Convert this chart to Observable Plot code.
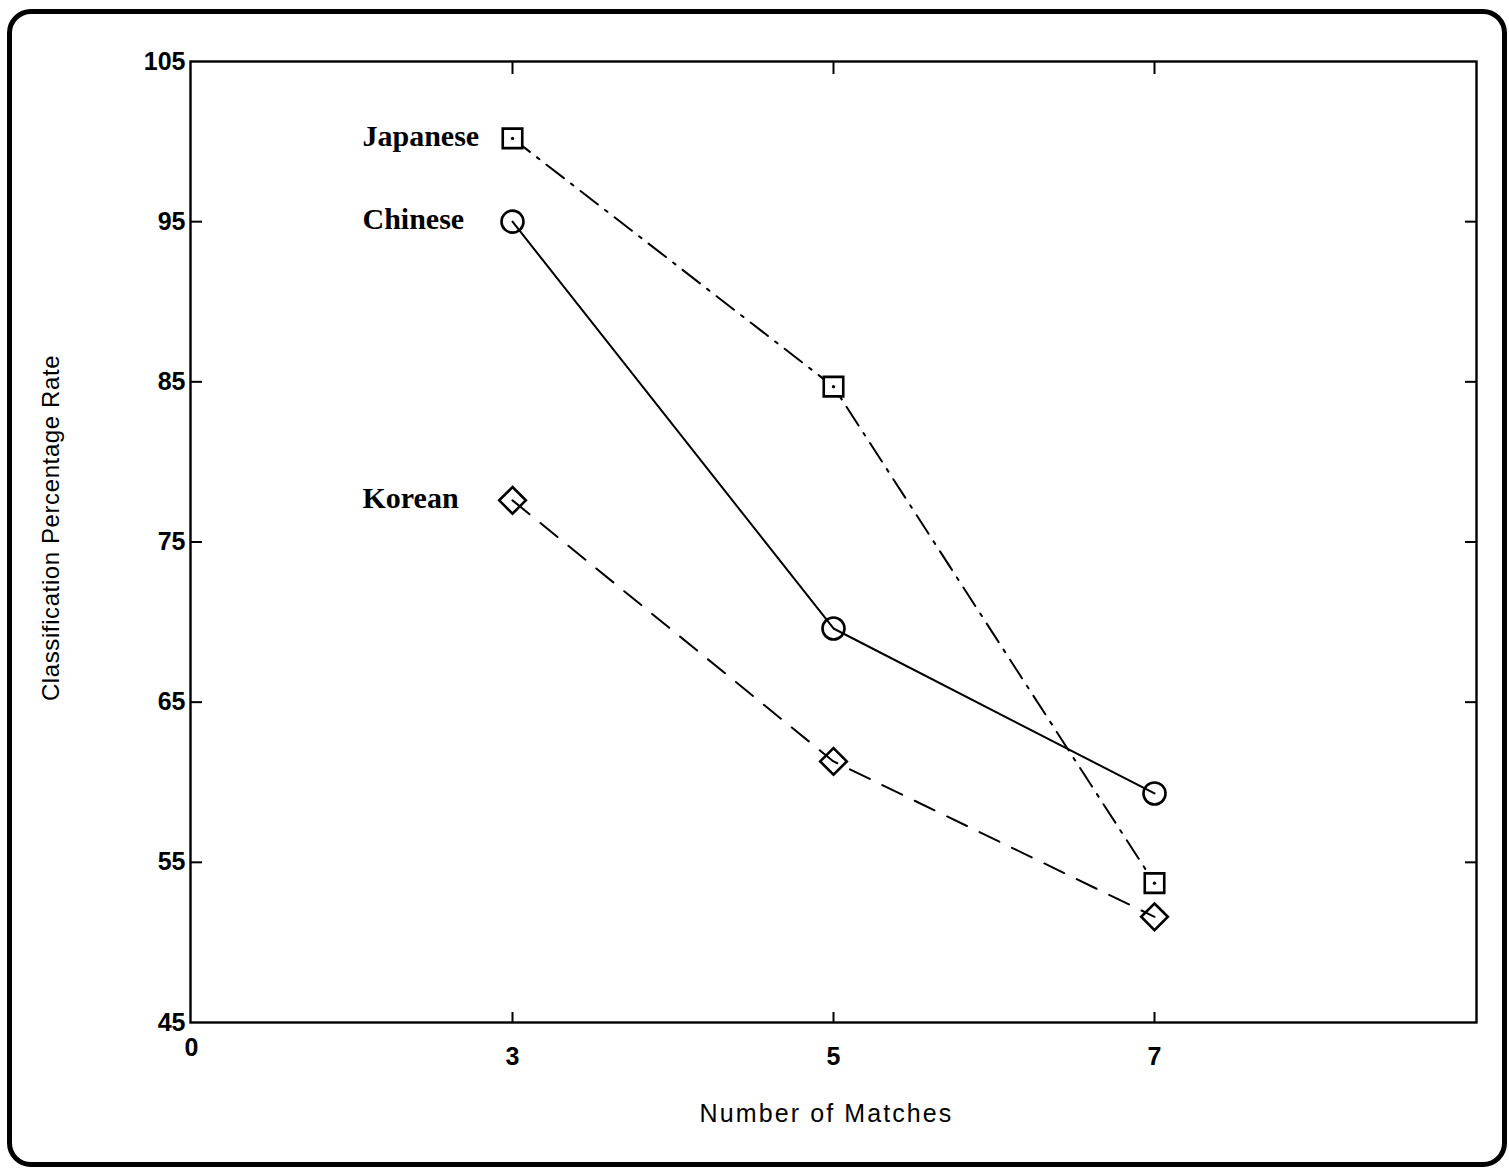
<!DOCTYPE html>
<html>
<head>
<meta charset="utf-8">
<script src="https://cdn.jsdelivr.net/npm/d3@7"></script>
<script src="https://cdn.jsdelivr.net/npm/@observablehq/plot@0.6"></script>
<style>
  html, body { margin: 0; padding: 0; background: #fff; }
  #wrap { position: relative; width: 1509px; height: 1173px; }
  #border { position: absolute; left: 7px; top: 9px; width: 1490px; height: 1148px;
            border: 5px solid #000; border-radius: 24px; pointer-events: none; }
</style>
</head>
<body>
<div id="wrap"><div id="border"></div><div id="chart"></div></div>
<script>
const xTicks = ["0", "3", "5", "7", "9"];
const xTickLabels = ["0", "3", "5", "7"];
const yTicks = [45, 55, 65, 75, 85, 95, 105];
const matches = ["3", "5", "7"];
const japanese = [100.2, 84.7, 53.7];
const chinese = [95, 69.6, 59.3];
const korean = [77.6, 61.3, 51.6];
const xLabel = "Number of Matches";
const yLabel = "Classification Percentage Rate";

const rows = (name, vals) => matches.map((m, i) => ({series: name, x: m, y: vals[i]}));
const jp = rows("Japanese", japanese);
const cn = rows("Chinese", chinese);
const kr = rows("Korean", korean);
const labels = [jp[0], cn[0], kr[0]];

const sans = "'Liberation Sans', Arial, sans-serif";

const chart = Plot.plot({
  width: 1509,
  height: 1173,
  marginLeft: 190,
  marginRight: 33,
  marginTop: 61,
  marginBottom: 151,
  style: {fontFamily: sans, background: "transparent", overflow: "visible"},
  x: {type: "point", domain: xTicks, padding: 0},
  y: {domain: [45, 105]},
  marks: [
    Plot.frame({stroke: "#000", strokeWidth: 2.4}),
    // inward ticks on all sides
    Plot.axisX({anchor: "bottom", ticks: xTickLabels.slice(1), tickSize: -10, text: null, label: null, strokeWidth: 2}),
    Plot.axisX({anchor: "top", ticks: xTickLabels.slice(1), tickSize: -12, text: null, label: null, strokeWidth: 2}),
    Plot.axisY({anchor: "left", ticks: yTicks.slice(1, -1), tickSize: -12, text: null, label: null, strokeWidth: 2}),
    Plot.axisY({anchor: "right", ticks: yTicks.slice(1, -1), tickSize: -12, text: null, label: null, strokeWidth: 2}),
    // tick labels
    Plot.axisY({anchor: "left", ticks: yTicks, tickSize: 0, tickPadding: 5, fontSize: 25, fontWeight: "bold", label: null}),
    Plot.axisX({anchor: "bottom", ticks: ["0"], tickSize: 0, tickPadding: 16, fontSize: 25, fontWeight: "bold", label: null}),
    Plot.axisX({anchor: "bottom", ticks: xTickLabels.slice(1), tickSize: 0, tickPadding: 25, fontSize: 25, fontWeight: "bold", label: null}),
    // axis titles
    Plot.text([xLabel], {frameAnchor: "bottom", text: d => d, dy: 99, dx: -7, fontSize: 25, fill: "#000"}),
    Plot.text([yLabel], {frameAnchor: "left", text: d => d, rotate: -90, textAnchor: "middle", dx: -139, dy: -14, fontSize: 24, fill: "#000"}),
    // series lines
    Plot.line(jp, {x: "x", y: "y", stroke: "#000", strokeWidth: 2, strokeDasharray: "22,9,3,9"}),
    Plot.line(cn, {x: "x", y: "y", stroke: "#000", strokeWidth: 2}),
    Plot.line(kr, {x: "x", y: "y", stroke: "#000", strokeWidth: 2, strokeDasharray: "22,14"}),
    // markers
    Plot.dot(jp, {x: "x", y: "y", symbol: "square", r: 11, stroke: "#000", strokeWidth: 2.6, fill: "#fff"}),
    Plot.dot(jp, {x: "x", y: "y", r: 1.7, fill: "#000"}),
    Plot.dot(cn, {x: "x", y: "y", symbol: "circle", r: 11, stroke: "#000", strokeWidth: 2.6, fill: "none"}),
    Plot.dot(kr, {x: "x", y: "y", symbol: "diamond2", r: 12, stroke: "#000", strokeWidth: 2.6, fill: "none"}),
    // series labels
    Plot.text(labels, {x: "x", y: "y", text: "series", textAnchor: "start", dx: -150, dy: -2,
      fontFamily: "'Liberation Serif', 'Times New Roman', serif", fontWeight: "bold", fontSize: 30, fill: "#000"})
  ]
});
d3.select(chart).selectAll("text")
  .filter(function() { return this.textContent === xLabel; })
  .attr("letter-spacing", "2.1px");
d3.select(chart).selectAll("text")
  .filter(function() { return this.textContent === yLabel; })
  .attr("letter-spacing", "0.6px");
document.getElementById("chart").appendChild(chart);
</script>
</body>
</html>
